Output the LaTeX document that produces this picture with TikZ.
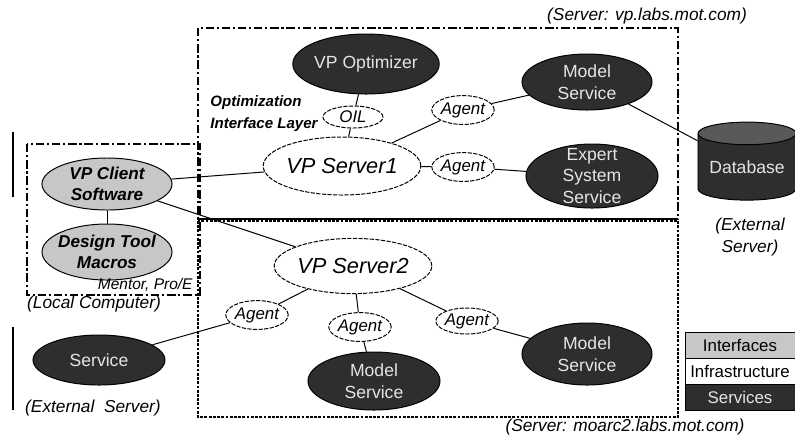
\documentclass[tikz,border=0pt]{standalone}
\usepackage{fontspec}
\setmainfont{Liberation Sans}
\usepackage{tikz}
\usetikzlibrary{shapes.geometric}
\definecolor{svcfill}{gray}{0.18}
\definecolor{ifcfill}{gray}{0.78}
\definecolor{svctext}{gray}{0.9}

\begin{document}
\begin{tikzpicture}[x=0.025cm,y=-0.025cm,line width=0.7pt,
  every node/.style={inner sep=0pt},
  svc/.style={ellipse,draw,fill=svcfill,text=svctext,font=\fontsize{12.5}{15.3}\selectfont},
  ifc/.style={ellipse,draw,fill=ifcfill},
  infra/.style={ellipse,draw,fill=white,dash pattern=on 3pt off 1pt,font=\fontsize{15.5}{18}\selectfont\itshape},
  agent/.style={infra,minimum width=1.55cm,minimum height=0.72cm,font=\fontsize{12}{14}\selectfont\itshape},
  wlbl/.style={align=center,text=svctext,font=\fontsize{12.5}{15.3}\selectfont},
  glbl/.style={align=center,font=\fontsize{12.2}{15.3}\selectfont\bfseries\itshape},
  note/.style={font=\fontsize{12.3}{15.3}\selectfont\itshape},
  box/.style={dash pattern=on 6pt off 2pt on 1.5pt off 2pt,line width=1pt},
  dotbox/.style={dash pattern=on 2pt off 1pt,line width=1.4pt},
  leg/.style={draw,rectangle,minimum width=2.75cm,minimum height=0.65cm,font=\fontsize{12}{14}\selectfont}]

  \useasboundingbox (0,0) rectangle (795,437);

  % server and computer boxes
  \draw[box] (198,28) rectangle (678,219);
  \draw[dotbox] (198,221) rectangle (678,417);
  \draw[line width=1.5pt] (198,219) -- (678,219);
  \draw[box] (27,144) rectangle (200,295);
  \draw[line width=1pt] (13,132) -- (13,197);
  \draw[line width=1pt] (13,327) -- (13,410);

  % upper server
  \node[svc,minimum width=3.35cm,minimum height=1.5cm]  (opt)  at (366,64)  {VP Optimizer};
  \node[infra,minimum width=1.5cm,minimum height=0.55cm,font=\fontsize{12}{14}\selectfont\itshape] (oil) at (353,117) {OIL};
  \node[infra,minimum width=3.75cm,minimum height=1.45cm] (srv1) at (342,166) {VP Server1};
  \node[agent] (ag1) at (463,110) {Agent};
  \node[agent] (ag2) at (463,167) {Agent};
  \node[svc,minimum width=3.25cm,minimum height=1.4cm,label={[wlbl]center:Model\\Service}] (ms1) at (587,82) {};
  \node[svc,minimum width=3.3cm,minimum height=1.6cm,label={[wlbl]center:Expert\\System\\Service}] (ess) at (592,176) {};
  \node[cylinder,shape border rotate=90,aspect=0.3,draw,cylinder uses custom fill,
        cylinder body fill=svcfill,cylinder end fill=black!65,text=svctext,
        minimum width=2.45cm,minimum height=1.95cm,font=\fontsize{12.5}{15}\selectfont] (db) at (747,167) {Database};
  \node[align=left,anchor=west,font=\fontsize{10.7}{15.6}\selectfont\bfseries\itshape] (oiltxt) at (210,114) {Optimization\\Interface Layer};

  % local computer
  \node[ifc,minimum width=3.25cm,minimum height=1.3cm,label={[glbl]center:VP Client\\Software}] (cli) at (107,184) {};
  \node[ifc,minimum width=3.25cm,minimum height=1.4cm,label={[glbl]center:Design Tool\\Macros}] (dtm) at (107,252) {};

  % lower server
  \node[infra,minimum width=3.35cm,minimum height=1.38cm] (srv2) at (353,266) {VP Server2};
  \node[agent] (ag3) at (257,315) {Agent};
  \node[agent] (ag4) at (360,327) {Agent};
  \node[agent,minimum width=1.45cm,minimum height=0.65cm] (ag5) at (467,321) {Agent};
  \node[svc,minimum width=3.3cm,minimum height=1.25cm] (ext) at (99,360) {Service};
  \node[svc,minimum width=3.3cm,minimum height=1.45cm,label={[wlbl]center:Model\\Service}] (ms2) at (374,381) {};
  \node[svc,minimum width=3.25cm,minimum height=1.55cm,label={[wlbl]center:Model\\Service}] (ms3) at (587,354) {};

  % notes
  \node[note] (vplabs) at (647,16) {(Server: vp.labs.mot.com)};
  \node[note] (moarc)  at (625,427) {(Server: moarc2.labs.mot.com)};
  \node[note,align=center] (dbsrv) at (750,237) {(External\\Server)};
  \node[note] (local)  at (94,304) {(Local Computer)};
  \node[note] (extsrv) at (93,408) {(External\ \ Server)};
  \node[note,anchor=east,font=\fontsize{11}{13}\selectfont\itshape] (mentor) at (193,285) {Mentor, Pro/E};

  % legend
  \node[leg,fill=ifcfill] (lgi) at (740,345) {Interfaces};
  \node[leg,fill=white]   (lgr) at (740,371) {Infrastructure};
  \node[leg,fill=svcfill,text=svctext] (lgs) at (740,397) {Services};

  \path[draw]
  (opt) edge (oil)
  (oil) edge (srv1)
  (srv1) edge (ag1)
  (ag1) edge (ms1)
  (srv1) edge (ag2)
  (ag2) edge (ess)
  (ms1) edge (db)
  (cli) edge (srv1)
  (cli) edge (srv2)
  (cli) edge (dtm)
  (srv2) edge (ag3)
  (ag3) edge (ext)
  (srv2) edge (ag4)
  (ag4) edge (ms2)
  (srv2) edge (ag5)
  (ag5) edge (ms3)
  ;
\end{tikzpicture}
\end{document}
